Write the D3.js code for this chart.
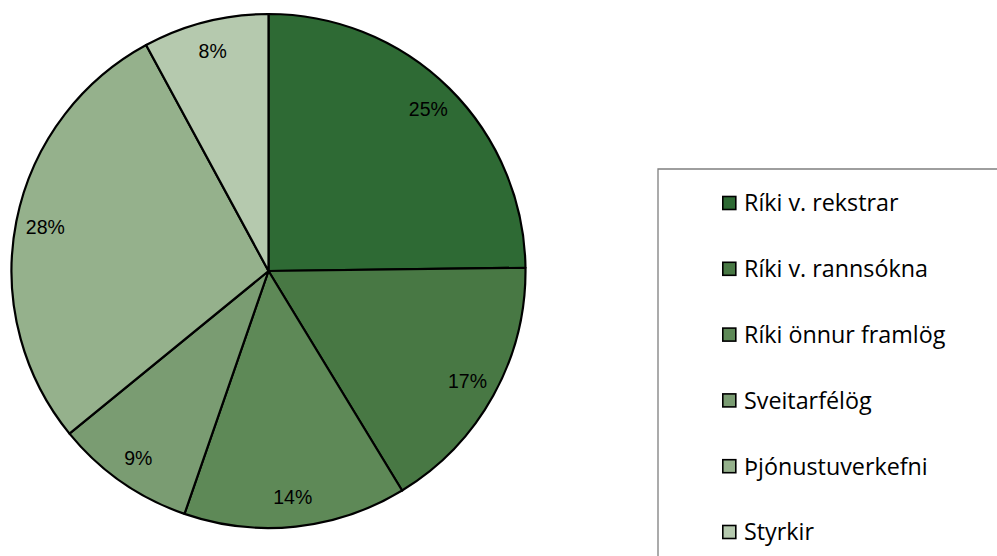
<!DOCTYPE html>
<html>
<head>
<meta charset="utf-8">
<script src="https://cdn.jsdelivr.net/npm/d3@7"></script>
<style>
  html, body { margin: 0; padding: 0; background: #fff; }
  svg { display: block; }
</style>
</head>
<body>
<svg id="chart" width="997" height="556"></svg>
<script>
// Funding sources, share of total (%)
const categories = [
  "Ríki v. rekstrar",
  "Ríki v. rannsókna",
  "Ríki önnur framlög",
  "Sveitarfélög",
  "Þjónustuverkefni",
  "Styrkir"
];
const shares = [24.8, 16.5, 14.0, 8.8, 28.0, 7.9];
const sliceColors = ["#2e6a34", "#487844", "#5e8957", "#7a9c72", "#95b18c", "#b5c9ae"];

const svg = d3.select("#chart");
const cx = 268.5, cy = 271, radius = 257;

const data = categories.map((c, i) => ({ name: c, value: shares[i], color: sliceColors[i] }));

const pie = d3.pie().value(d => d.value).sort(null);
const arcs = pie(data);
const arc = d3.arc().innerRadius(0).outerRadius(radius);
const labelArc = d3.arc().innerRadius(radius * 0.885).outerRadius(radius * 0.885);

const g = svg.append("g").attr("transform", `translate(${cx},${cy})`);

g.selectAll("path.slice")
  .data(arcs)
  .join("path")
  .attr("class", "slice")
  .attr("d", arc)
  .attr("fill", d => d.data.color)
  .attr("stroke", "#000")
  .attr("stroke-width", 2.2)
  .attr("stroke-linejoin", "round");

g.selectAll("text.pct")
  .data(arcs)
  .join("text")
  .attr("class", "pct")
  .attr("transform", d => `translate(${labelArc.centroid(d)})`)
  .attr("text-anchor", "middle")
  .attr("dy", "0.36em")
  .attr("font-family", "Liberation Sans, Arial, sans-serif")
  .attr("font-size", 19.5)
  .attr("fill", "#000")
  .text(d => Math.round(d.data.value) + "%");

// Legend panel
const legendX = 658, legendY = 169;
svg.append("path")
  .attr("d", `M${legendX},556 V${legendY} H997`)
  .attr("fill", "none")
  .attr("stroke", "#7f7f7f")
  .attr("stroke-width", 1.3);

const rowY = d3.scalePoint()
  .domain(categories)
  .range([203, 532]);

const items = svg.append("g")
  .selectAll("g.item")
  .data(data)
  .join("g")
  .attr("class", "item")
  .attr("transform", d => `translate(722,${rowY(d.name)})`);

items.append("rect")
  .attr("x", 0.8)
  .attr("y", -6.5)
  .attr("width", 13)
  .attr("height", 13)
  .attr("fill", d => d.color)
  .attr("stroke", "#000")
  .attr("stroke-width", 1.6);

items.append("text")
  .attr("x", 22)
  .attr("dy", "0.36em")
  .attr("font-family", "Open Sans, Noto Sans, sans-serif")
  .attr("font-size", 23.3)
  .attr("fill", "#000")
  .text(d => d.name);
</script>
</body>
</html>
